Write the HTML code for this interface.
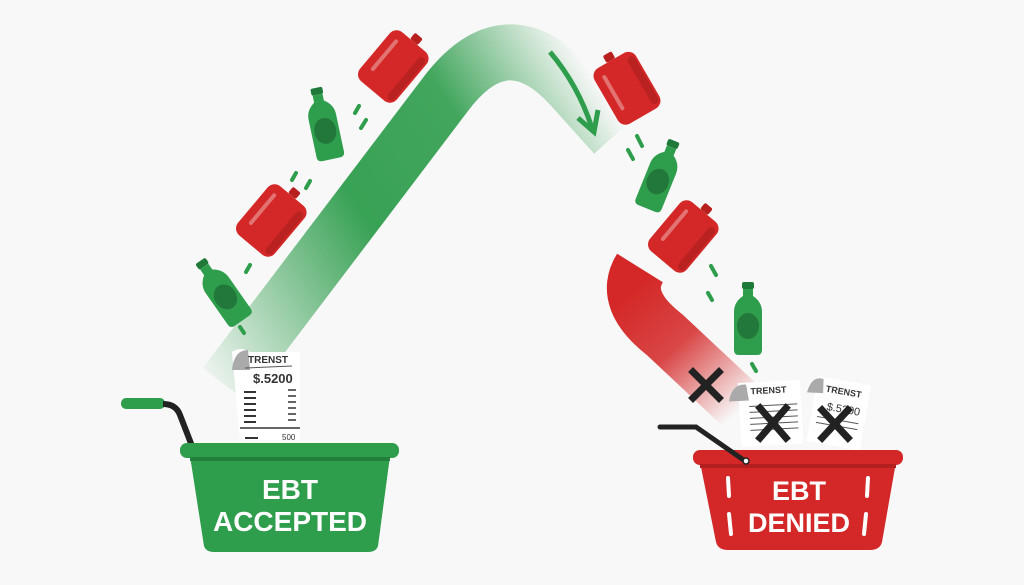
<!DOCTYPE html>
<html><head><meta charset="utf-8"><style>
html,body{margin:0;padding:0;background:#f8f8f8;}
svg{display:block}
text{font-family:"Liberation Sans",sans-serif;}
</style></head><body>
<svg width="1024" height="585" viewBox="0 0 1024 585" xmlns="http://www.w3.org/2000/svg">
<defs>
<linearGradient id="gg" gradientUnits="userSpaceOnUse" x1="210" y1="380" x2="620" y2="120">
<stop offset="0" stop-color="#2e9d4c" stop-opacity="0.05"/>
<stop offset="0.45" stop-color="#2e9d4c" stop-opacity="0.95"/>
<stop offset="0.72" stop-color="#2e9d4c" stop-opacity="0.9"/>
<stop offset="1" stop-color="#2e9d4c" stop-opacity="0"/>
</linearGradient>
<linearGradient id="rg" gradientUnits="userSpaceOnUse" x1="630" y1="290" x2="740" y2="410">
<stop offset="0" stop-color="#d42727" stop-opacity="1"/>
<stop offset="0.45" stop-color="#d42727" stop-opacity="0.85"/>
<stop offset="1" stop-color="#d42727" stop-opacity="0"/>
</linearGradient>
<g id="can">
<rect x="-5" y="-42" width="10" height="8" rx="2" fill="#b81f1f"/>
<rect x="-24" y="-34" width="48" height="64" rx="9" fill="#d42828"/>
<rect x="14" y="-28" width="8" height="54" rx="4" fill="#a81c1c" opacity="0.6"/>
<rect x="-16" y="-25" width="4" height="40" rx="2" fill="#fff" opacity="0.35"/>
</g>
<g id="bot">
<rect x="-6" y="-38" width="12" height="7" rx="2" fill="#1f7a3a"/>
<path d="M-5,-31 H5 V-24 Q14,-18 14,-8 V30 Q14,35 9,35 H-9 Q-14,35 -14,30 V-8 Q-14,-18 -5,-24 Z" fill="#2e9d4c"/>
<ellipse cx="0" cy="6" rx="11" ry="13" fill="#1f6e36" opacity="0.8"/>
</g>
</defs>
<rect width="1024" height="585" fill="#f8f8f8"/>
<path d="M225,385 L445,95 Q505,15 570,85 L615,135" fill="none" stroke="url(#gg)" stroke-width="56"/>
<path d="M550,52 Q578,85 592,128" fill="none" stroke="#2e9d4c" stroke-width="5"/>
<path d="M578,118 L594,132 L598,110" fill="none" stroke="#2e9d4c" stroke-width="5"/>
<path d="M640,268 Q620,300 665,335 L745,410" fill="none" stroke="url(#rg)" stroke-width="54"/>
<g stroke="#2e9d4c" stroke-width="4" stroke-linecap="round">
<line x1="246" y1="272" x2="250" y2="265"/><line x1="240" y1="327" x2="244" y2="333"/>
<line x1="292" y1="180" x2="296" y2="173"/><line x1="306" y1="188" x2="310" y2="181"/>
<line x1="355" y1="113" x2="359" y2="106"/><line x1="361" y1="128" x2="366" y2="120"/>
<line x1="637" y1="136" x2="642" y2="146"/><line x1="628" y1="150" x2="633" y2="159"/>
<line x1="711" y1="266" x2="716" y2="275"/><line x1="708" y1="293" x2="712" y2="300"/>
<line x1="752" y1="364" x2="756" y2="371"/>
</g>
<use href="#can" transform="translate(392,68) rotate(40)"/>
<use href="#can" transform="translate(270,222) rotate(40)"/>
<use href="#can" transform="translate(628,90) rotate(-30)"/>
<use href="#can" transform="translate(682,238) rotate(40)"/>
<use href="#bot" transform="translate(324,125) rotate(-12)"/>
<use href="#bot" transform="translate(222,292) rotate(-35)"/>
<use href="#bot" transform="translate(660,176) rotate(22)"/>
<use href="#bot" transform="translate(748,320)"/>
<rect x="121" y="398" width="44" height="11" rx="5" fill="#2e9d4c"/>
<path d="M163,404 Q176,404 180,415 L192,446" fill="none" stroke="#222" stroke-width="6"/>
<g>
<path d="M232,352 Q240,346 250,352 L300,352 L300,440 L240,440 Z" fill="#fff"/>
<path d="M232,370 Q234,350 248,350 L250,370 Z" fill="#aaa"/>
<text x="248" y="363" font-size="10" font-weight="bold" fill="#333">TRENST</text>
<line x1="245" y1="368" x2="292" y2="366" stroke="#555" stroke-width="1"/>
<text x="253" y="383" font-size="13" font-weight="bold" fill="#333">$.5200</text>
<g stroke="#333" stroke-width="2"><line x1="244" y1="392" x2="256" y2="392"/><line x1="244" y1="398" x2="256" y2="398"/><line x1="244" y1="404" x2="256" y2="404"/><line x1="244" y1="410" x2="256" y2="410"/><line x1="244" y1="416" x2="256" y2="416"/><line x1="244" y1="422" x2="256" y2="422"/><line x1="245" y1="438" x2="258" y2="438"/></g>
<g stroke="#333" stroke-width="1.5"><line x1="288" y1="390" x2="296" y2="390"/><line x1="288" y1="396" x2="296" y2="396"/><line x1="288" y1="402" x2="296" y2="402"/><line x1="288" y1="408" x2="296" y2="408"/><line x1="288" y1="414" x2="296" y2="414"/><line x1="288" y1="420" x2="296" y2="420"/><line x1="240" y1="428" x2="300" y2="428"/></g>
<text x="282" y="440" font-size="8" fill="#333">500</text>
</g>
<path d="M190,456 L390,456 L378,546 Q376,552 368,552 L214,552 Q206,552 204,546 Z" fill="#2e9d4c"/>
<rect x="180" y="443" width="219" height="15" rx="7" fill="#2e9d4c"/>
<rect x="190" y="457" width="200" height="4" fill="#23803c"/>
<text x="290" y="499" font-size="28" font-weight="bold" fill="#fff" text-anchor="middle">EBT</text>
<text x="290" y="531" font-size="28" font-weight="bold" fill="#fff" text-anchor="middle">ACCEPTED</text>
<g transform="translate(738,383) rotate(-3)">
<rect x="0" y="0" width="62" height="64" fill="#fff"/>
<path d="M-10,18 Q-6,0 8,2 L10,18 Z" fill="#aaa"/>
<text x="12" y="12" font-size="9" font-weight="bold" fill="#333">TRENST</text>
<g stroke="#555" stroke-width="1"><line x1="10" y1="24" x2="58" y2="24"/><line x1="10" y1="30" x2="58" y2="30"/><line x1="10" y1="36" x2="58" y2="36"/><line x1="10" y1="42" x2="58" y2="42"/><line x1="10" y1="48" x2="58" y2="48"/></g>
</g>
<g transform="translate(818,376) rotate(10)">
<rect x="0" y="0" width="54" height="66" fill="#fff"/>
<path d="M-8,18 Q-6,0 6,2 L8,16 Z" fill="#aaa"/>
<text x="10" y="14" font-size="9" font-weight="bold" fill="#333">TRENST</text>
<text x="14" y="32" font-size="11" fill="#333">$.5200</text>
<g stroke="#555" stroke-width="1"><line x1="6" y1="40" x2="48" y2="40"/><line x1="6" y1="46" x2="48" y2="46"/></g>
</g>
<g stroke="#222" stroke-width="7" stroke-linecap="square">
<line x1="693" y1="372" x2="719" y2="398"/><line x1="719" y1="372" x2="693" y2="398"/>
<line x1="760" y1="408" x2="786" y2="438"/><line x1="786" y1="408" x2="760" y2="438"/>
<line x1="822" y1="410" x2="848" y2="438"/><line x1="848" y1="410" x2="822" y2="438"/>
</g>
<path d="M700,462 L896,462 L882,542 Q880,550 870,550 L728,550 Q718,550 716,542 Z" fill="#d42828"/>
<rect x="693" y="450" width="210" height="15" rx="7" fill="#d42828"/>
<rect x="700" y="464" width="196" height="4" fill="#b31e1e"/>
<path d="M660,427 L696,427 L745,461" fill="none" stroke="#222" stroke-width="5" stroke-linecap="round"/>
<circle cx="746" cy="461" r="3" fill="#fff" stroke="#222" stroke-width="1.5"/>
<g stroke="#fff" stroke-width="4" stroke-linecap="round"><line x1="728" y1="478" x2="729" y2="496"/><line x1="729" y1="514" x2="731" y2="534"/><line x1="868" y1="478" x2="867" y2="496"/><line x1="866" y1="514" x2="864" y2="534"/></g>
<text x="799" y="500" font-size="27" font-weight="bold" fill="#fff" text-anchor="middle">EBT</text>
<text x="799" y="532" font-size="27" font-weight="bold" fill="#fff" text-anchor="middle">DENIED</text>
</svg>
</body></html>
